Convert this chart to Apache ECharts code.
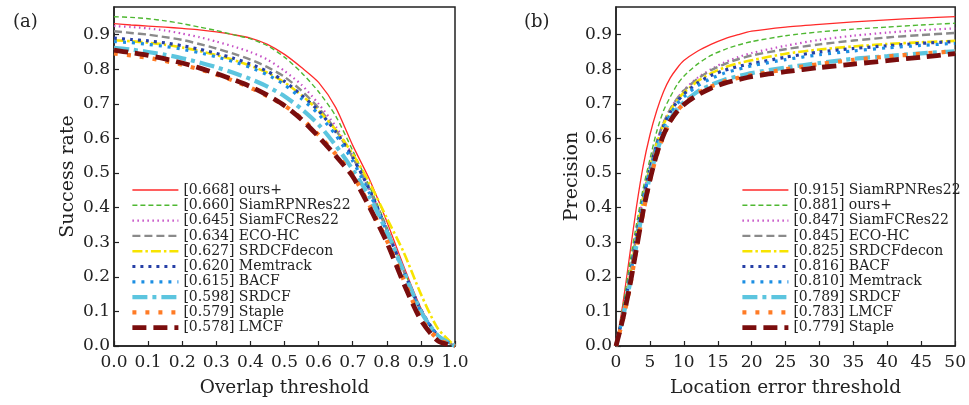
<!DOCTYPE html>
<html><head><meta charset="utf-8">
<script src="https://cdn.jsdelivr.net/npm/echarts@6/dist/echarts.min.js"></script>
<style>html,body{margin:0;padding:0;background:#fff}#c{width:969px;height:405px}</style>
</head><body><div id="c"></div>
<script>
// ---------- Data ----------
const overlapX = [0,0.05,0.1,0.15,0.2,0.25,0.3,0.35,0.4,0.45,0.5,0.55,0.6,0.65,0.7,0.75,0.8,0.85,0.9,0.95,1.0];
const successNames = ['[0.668] ours+','[0.660] SiamRPNRes22','[0.645] SiamFCRes22','[0.634] ECO-HC','[0.627] SRDCFdecon','[0.620] Memtrack','[0.615] BACF','[0.598] SRDCF','[0.579] Staple','[0.578] LMCF'];
const succ_ours = [0.932,0.928,0.925,0.922,0.918,0.914,0.908,0.9,0.89,0.872,0.843,0.805,0.762,0.69,0.58,0.48,0.36,0.23,0.11,0.03,0];
const succ_siamrpn = [0.952,0.95,0.946,0.94,0.932,0.922,0.912,0.9,0.888,0.868,0.835,0.79,0.735,0.665,0.565,0.46,0.345,0.22,0.105,0.03,0];
const succ_siamfc = [0.925,0.922,0.918,0.912,0.903,0.893,0.88,0.866,0.85,0.828,0.795,0.755,0.7,0.635,0.55,0.45,0.34,0.22,0.105,0.03,0];
const succ_eco = [0.91,0.905,0.9,0.893,0.885,0.873,0.86,0.845,0.828,0.806,0.778,0.738,0.688,0.625,0.545,0.45,0.335,0.215,0.1,0.03,0];
const succ_srdcfdecon = [0.884,0.881,0.877,0.871,0.863,0.853,0.841,0.827,0.81,0.79,0.762,0.725,0.68,0.625,0.555,0.47,0.37,0.27,0.15,0.05,0];
const succ_memtrack = [0.89,0.886,0.882,0.876,0.868,0.858,0.846,0.832,0.815,0.794,0.765,0.725,0.68,0.62,0.545,0.45,0.335,0.215,0.105,0.03,0];
const succ_bacf = [0.88,0.877,0.872,0.866,0.858,0.848,0.836,0.822,0.805,0.784,0.755,0.715,0.67,0.61,0.535,0.44,0.33,0.21,0.1,0.03,0];
const succ_srdcf = [0.862,0.857,0.85,0.842,0.832,0.82,0.806,0.79,0.772,0.75,0.722,0.685,0.64,0.58,0.51,0.43,0.33,0.215,0.1,0.03,0];
const succ_staple = [0.846,0.84,0.833,0.824,0.813,0.8,0.785,0.767,0.747,0.722,0.695,0.658,0.61,0.555,0.495,0.405,0.305,0.19,0.08,0.02,0];
const succ_lmcf = [0.855,0.848,0.84,0.83,0.818,0.804,0.788,0.77,0.75,0.725,0.695,0.655,0.605,0.55,0.49,0.4,0.3,0.18,0.075,0.015,0];

const locX = [0,1,2,3,4,5,6,7,8,9,10,12,14,16,18,20,25,30,35,40,45,50];
const precNames = ['[0.915] SiamRPNRes22','[0.881] ours+','[0.847] SiamFCRes22','[0.845] ECO-HC','[0.825] SRDCFdecon','[0.816] BACF','[0.810] Memtrack','[0.789] SRDCF','[0.783] LMCF','[0.779] Staple'];
const prec_siamrpn = [0,0.12,0.26,0.4,0.52,0.61,0.68,0.735,0.775,0.803,0.825,0.852,0.872,0.888,0.9,0.91,0.922,0.93,0.937,0.943,0.948,0.952];
const prec_ours = [0,0.11,0.235,0.35,0.455,0.54,0.62,0.68,0.72,0.755,0.78,0.815,0.84,0.857,0.87,0.88,0.897,0.908,0.916,0.922,0.928,0.933];
const prec_siamfc = [0,0.09,0.2,0.32,0.43,0.52,0.59,0.645,0.685,0.715,0.74,0.775,0.8,0.82,0.835,0.847,0.868,0.885,0.897,0.906,0.913,0.918];
const prec_eco = [0,0.09,0.2,0.32,0.43,0.52,0.59,0.645,0.685,0.715,0.738,0.772,0.797,0.815,0.829,0.84,0.858,0.872,0.883,0.892,0.899,0.905];
const prec_srdcfdecon = [0,0.088,0.195,0.315,0.425,0.515,0.585,0.64,0.68,0.71,0.732,0.765,0.788,0.805,0.817,0.826,0.845,0.857,0.866,0.873,0.878,0.882];
const prec_bacf = [0,0.088,0.195,0.315,0.425,0.512,0.582,0.636,0.676,0.706,0.728,0.76,0.782,0.797,0.808,0.816,0.835,0.85,0.86,0.868,0.875,0.88];
const prec_memtrack = [0,0.085,0.19,0.31,0.42,0.508,0.578,0.63,0.67,0.7,0.72,0.752,0.773,0.789,0.8,0.81,0.828,0.842,0.853,0.862,0.869,0.875];
const prec_srdcf = [0,0.08,0.175,0.29,0.4,0.49,0.56,0.615,0.655,0.685,0.705,0.735,0.755,0.77,0.78,0.789,0.805,0.818,0.83,0.838,0.846,0.852];
const prec_lmcf = [0,0.075,0.165,0.28,0.385,0.478,0.55,0.607,0.648,0.68,0.7,0.73,0.75,0.765,0.775,0.783,0.8,0.815,0.827,0.837,0.845,0.852];
const prec_staple = [0,0.078,0.17,0.28,0.39,0.48,0.555,0.61,0.65,0.678,0.698,0.725,0.745,0.76,0.77,0.779,0.793,0.805,0.815,0.825,0.835,0.845];

const yTicks = [0,0.1,0.2,0.3,0.4,0.5,0.6,0.7,0.8,0.9];

// ---------- Styles by rank ----------
const styles = [
  {color:'#ff2a2a', width:1.3, type:'solid'},
  {color:'#4fb832', width:1.4, type:[5,3]},
  {color:'#c64fc6', width:2.2, type:[1.5,3.5]},
  {color:'#8a8a8a', width:2.4, type:[8,4]},
  {color:'#f7e400', width:2.6, type:[10,3,2.5,3]},
  {color:'#2640a6', width:3.2, type:[3,5]},
  {color:'#1c8fe3', width:3.2, type:[3,6]},
  {color:'#5cc5df', width:4.2, type:[15,5,4,5]},
  {color:'#ff7b25', width:4.2, type:[4,9]},
  {color:'#7a0d0d', width:4.8, type:[14,7]}
];

const FONT = 'DejaVu Serif';
const succData = [succ_ours,succ_siamrpn,succ_siamfc,succ_eco,succ_srdcfdecon,succ_memtrack,succ_bacf,succ_srdcf,succ_staple,succ_lmcf];
const precData = [prec_siamrpn,prec_ours,prec_siamfc,prec_eco,prec_srdcfdecon,prec_bacf,prec_memtrack,prec_srdcf,prec_lmcf,prec_staple];

function mkSeries(names, xs, arrs, idx){
  return names.map((n,i)=>({
    name:n, type:'line', xAxisIndex:idx, yAxisIndex:idx,
    data: xs.map((x,j)=>[x, arrs[i][j]]),
    symbol:'none', smooth:0.25, animation:false,
    lineStyle:{color:styles[i].color, width:styles[i].width, type:styles[i].type},
    itemStyle:{color:styles[i].color},
    z: 2+i
  }));
}

const yLabelFmt = v => yTicks.some(t=>Math.abs(t-v)<1e-9) ? v.toFixed(1) : '';
function yAxis(idx, nameGap, name){
  return {type:'value', gridIndex:idx, min:0, max:0.98, interval:0.1, name:name,
    nameLocation:'middle', nameGap:nameGap, nameTextStyle:{fontFamily:FONT, fontSize:19, color:'#222'},
    axisLine:{show:true, lineStyle:{color:'#222', width:1.5}},
    axisTick:{show:true, inside:true, length:5, lineStyle:{color:'#222', width:1.2}},
    axisLabel:{fontFamily:FONT, fontSize:17, color:'#222', margin:4, formatter:yLabelFmt, showMaxLabel:false},
    splitLine:{show:false}};
}
function xAxis(idx, max, interval, name, dec){
  return {type:'value', gridIndex:idx, min:0, max:max, interval:interval, name:name,
    nameLocation:'middle', nameGap:33, nameTextStyle:{fontFamily:FONT, fontSize:18.5, color:'#222'},
    axisLine:{show:true, lineStyle:{color:'#222', width:1.5}},
    axisTick:{show:true, inside:true, length:5, lineStyle:{color:'#222', width:1.2}},
    axisLabel:{fontFamily:FONT, fontSize:17, color:'#222', margin:8, formatter: v => v.toFixed(dec)},
    splitLine:{show:false}};
}
function legend(names, left){
  return {data:names, orient:'vertical', left:left, top:178, itemWidth:46, itemHeight:12, itemGap:1.3,
    itemStyle:{opacity:0}, lineStyle:{width:'inherit'},
    textStyle:{fontFamily:FONT, fontSize:14, color:'#222'}, selectedMode:false};
}

const chart = echarts.init(document.getElementById('c'), null, {renderer:'canvas'});
chart.setOption({
  backgroundColor:'#fff', animation:false,
  title:[
    {text:'(a)', left:8, top:8, textStyle:{fontFamily:FONT, fontSize:18, fontWeight:'normal', color:'#222'}},
    {text:'(b)', left:519, top:8, textStyle:{fontFamily:FONT, fontSize:18, fontWeight:'normal', color:'#222'}}
  ],
  grid:[
    {left:114, top:7, width:341, height:339, show:true, borderColor:'#222', borderWidth:1.5, backgroundColor:'transparent'},
    {left:616, top:7, width:341, height:339, show:true, borderColor:'#222', borderWidth:1.5, backgroundColor:'transparent'}
  ],
  xAxis:[xAxis(0,1,0.1,'Overlap threshold',1), xAxis(1,50,5,'Location error threshold',0)],
  yAxis:[yAxis(0,36,'Success rate'), yAxis(1,30,'Precision')],
  legend:[legend(successNames,125), legend(precNames,735)],
  series:[...mkSeries(successNames, overlapX, succData, 0), ...mkSeries(precNames, locX, precData, 1)]
});
</script>
</body></html>
